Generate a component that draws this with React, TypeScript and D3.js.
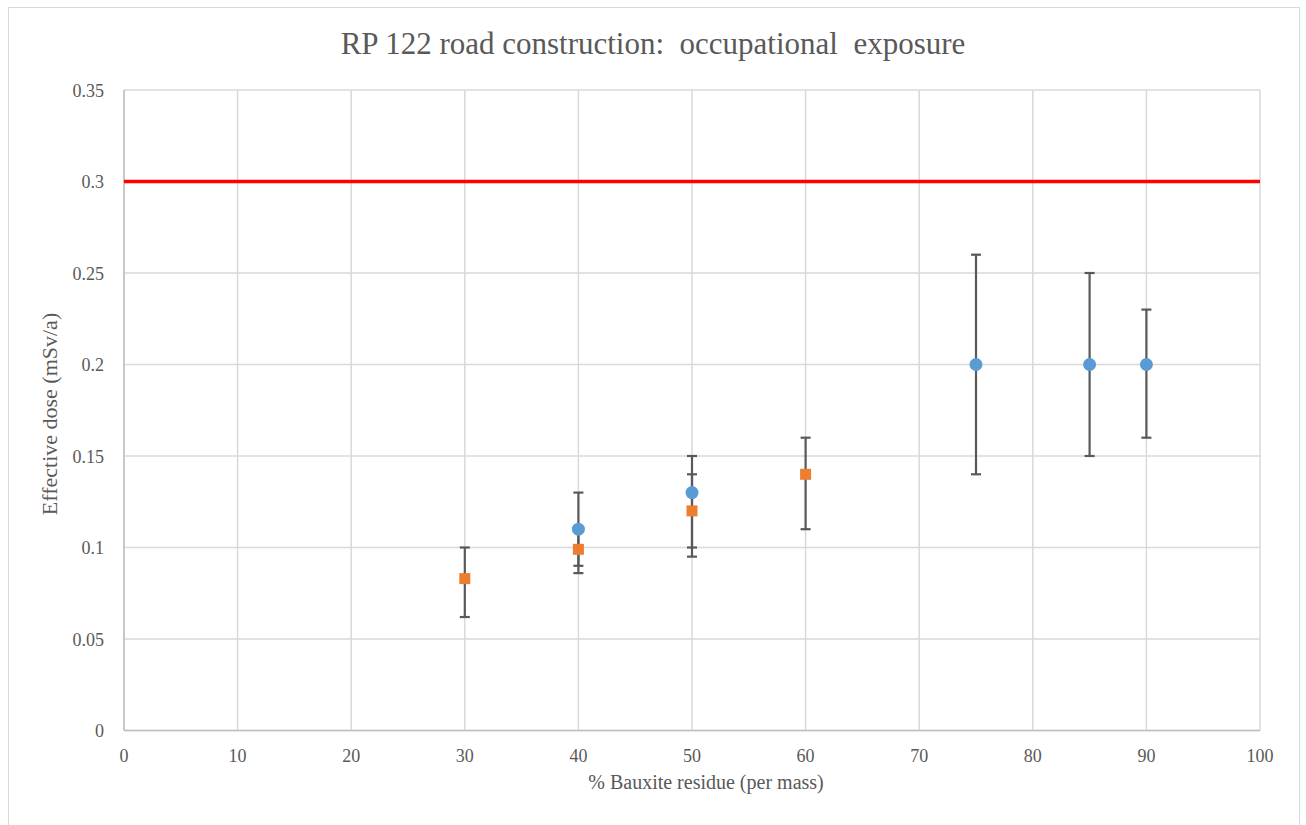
import React from "react";
import * as d3 from "d3";

const xTicks = [0, 10, 20, 30, 40, 50, 60, 70, 80, 90, 100];
const yTicks = [0, 0.05, 0.1, 0.15, 0.2, 0.25, 0.3, 0.35];
const yTickLabels = ["0", "0.05", "0.1", "0.15", "0.2", "0.25", "0.3", "0.35"];

// blue series (circles)
const blueX = [40, 50, 75, 85, 90];
const blueY = [0.11, 0.13, 0.2, 0.2, 0.2];
const blueLow = [0.09, 0.1, 0.14, 0.15, 0.16];
const blueHigh = [0.13, 0.15, 0.26, 0.25, 0.23];

// orange series (squares)
const orangeX = [30, 40, 50, 60];
const orangeY = [0.083, 0.099, 0.12, 0.14];
const orangeLow = [0.062, 0.086, 0.095, 0.11];
const orangeHigh = [0.1, 0.11, 0.14, 0.16];

const limitValue = 0.3;

const W = 1306;
const H = 825;
const left = 124;
const right = 1260;
const top = 90;
const bottom = 730.5;

export default function App() {
  const x = d3.scaleLinear().domain([0, 100]).range([left, right]);
  const y = d3.scaleLinear().domain([0, 0.35]).range([bottom, top]);
  const textColor = "#595959";
  const font = '"Liberation Serif", Tinos, "Times New Roman", "DejaVu Serif", serif';
  const errColor = "#595959";
  const cap = 5;

  const errBar = (xv: number, lo: number, hi: number, key: string) => (
    <g key={key} stroke={errColor} strokeWidth={2.2}>
      <line x1={x(xv)} x2={x(xv)} y1={y(lo)} y2={y(hi)} />
      <line x1={x(xv) - cap} x2={x(xv) + cap} y1={y(lo)} y2={y(lo)} />
      <line x1={x(xv) - cap} x2={x(xv) + cap} y1={y(hi)} y2={y(hi)} />
    </g>
  );

  const ts = { fontFamily: font };

  return (
    <svg
      width={W}
      height={H}
      style={{ position: "absolute", left: 0, top: 0, background: "#fff", fontFamily: font }}
    >
      <rect x={8.5} y={7.5} width={1291} height={830} fill="#fff" stroke="#d9d9d9" strokeWidth={1} />
      {/* grid */}
      {xTicks.map((t) => (
        <line key={"gx" + t} x1={x(t)} x2={x(t)} y1={top} y2={bottom} stroke="#d9d9d9" strokeWidth={1.5} />
      ))}
      {yTicks.map((t) => (
        <line key={"gy" + t} x1={left} x2={right} y1={y(t)} y2={y(t)} stroke="#d9d9d9" strokeWidth={1.5} />
      ))}
      {/* axes */}
      <line x1={left} x2={left} y1={top} y2={bottom} stroke="#bfbfbf" strokeWidth={1.5} />
      <line x1={left} x2={right} y1={bottom} y2={bottom} stroke="#bfbfbf" strokeWidth={1.5} />
      {/* tick labels */}
      {yTicks.map((t, i) => (
        <text key={"yl" + t} x={104} y={y(t) + 6.5} textAnchor="end" fontSize={18} fill={textColor} style={ts}>
          {yTickLabels[i]}
        </text>
      ))}
      {xTicks.map((t) => (
        <text key={"xl" + t} x={x(t)} y={762} textAnchor="middle" fontSize={18} fill={textColor} style={ts}>
          {t}
        </text>
      ))}
      {/* limit line */}
      <line x1={left} x2={right} y1={y(limitValue)} y2={y(limitValue)} stroke="#ff0000" strokeWidth={3.5} />
      {/* error bars */}
      {blueX.map((xv, i) => errBar(xv, blueLow[i], blueHigh[i], "be" + i))}
      {orangeX.map((xv, i) => errBar(xv, orangeLow[i], orangeHigh[i], "oe" + i))}
      {/* markers */}
      {blueX.map((xv, i) => (
        <circle key={"b" + i} cx={x(xv)} cy={y(blueY[i])} r={6.5} fill="#5b9bd5" />
      ))}
      {orangeX.map((xv, i) => (
        <rect key={"o" + i} x={x(xv) - 5.5} y={y(orangeY[i]) - 5.5} width={11} height={11} fill="#ed7d31" />
      ))}
      {/* titles */}
      <text x={653} y={54} textAnchor="middle" fontSize={31} fill={textColor} style={{ ...ts, whiteSpace: "pre" }}>
        {"RP 122 road construction:  occupational  exposure"}
      </text>
      <text x={706} y={789} textAnchor="middle" fontSize={20} fill={textColor} style={ts}>
        % Bauxite residue (per mass)
      </text>
      <text
        transform={`translate(57, 414) rotate(-90)`}
        textAnchor="middle"
        fontSize={22}
        fill={textColor}
        style={ts}
      >
        Effective dose (mSv/a)
      </text>
    </svg>
  );
}
